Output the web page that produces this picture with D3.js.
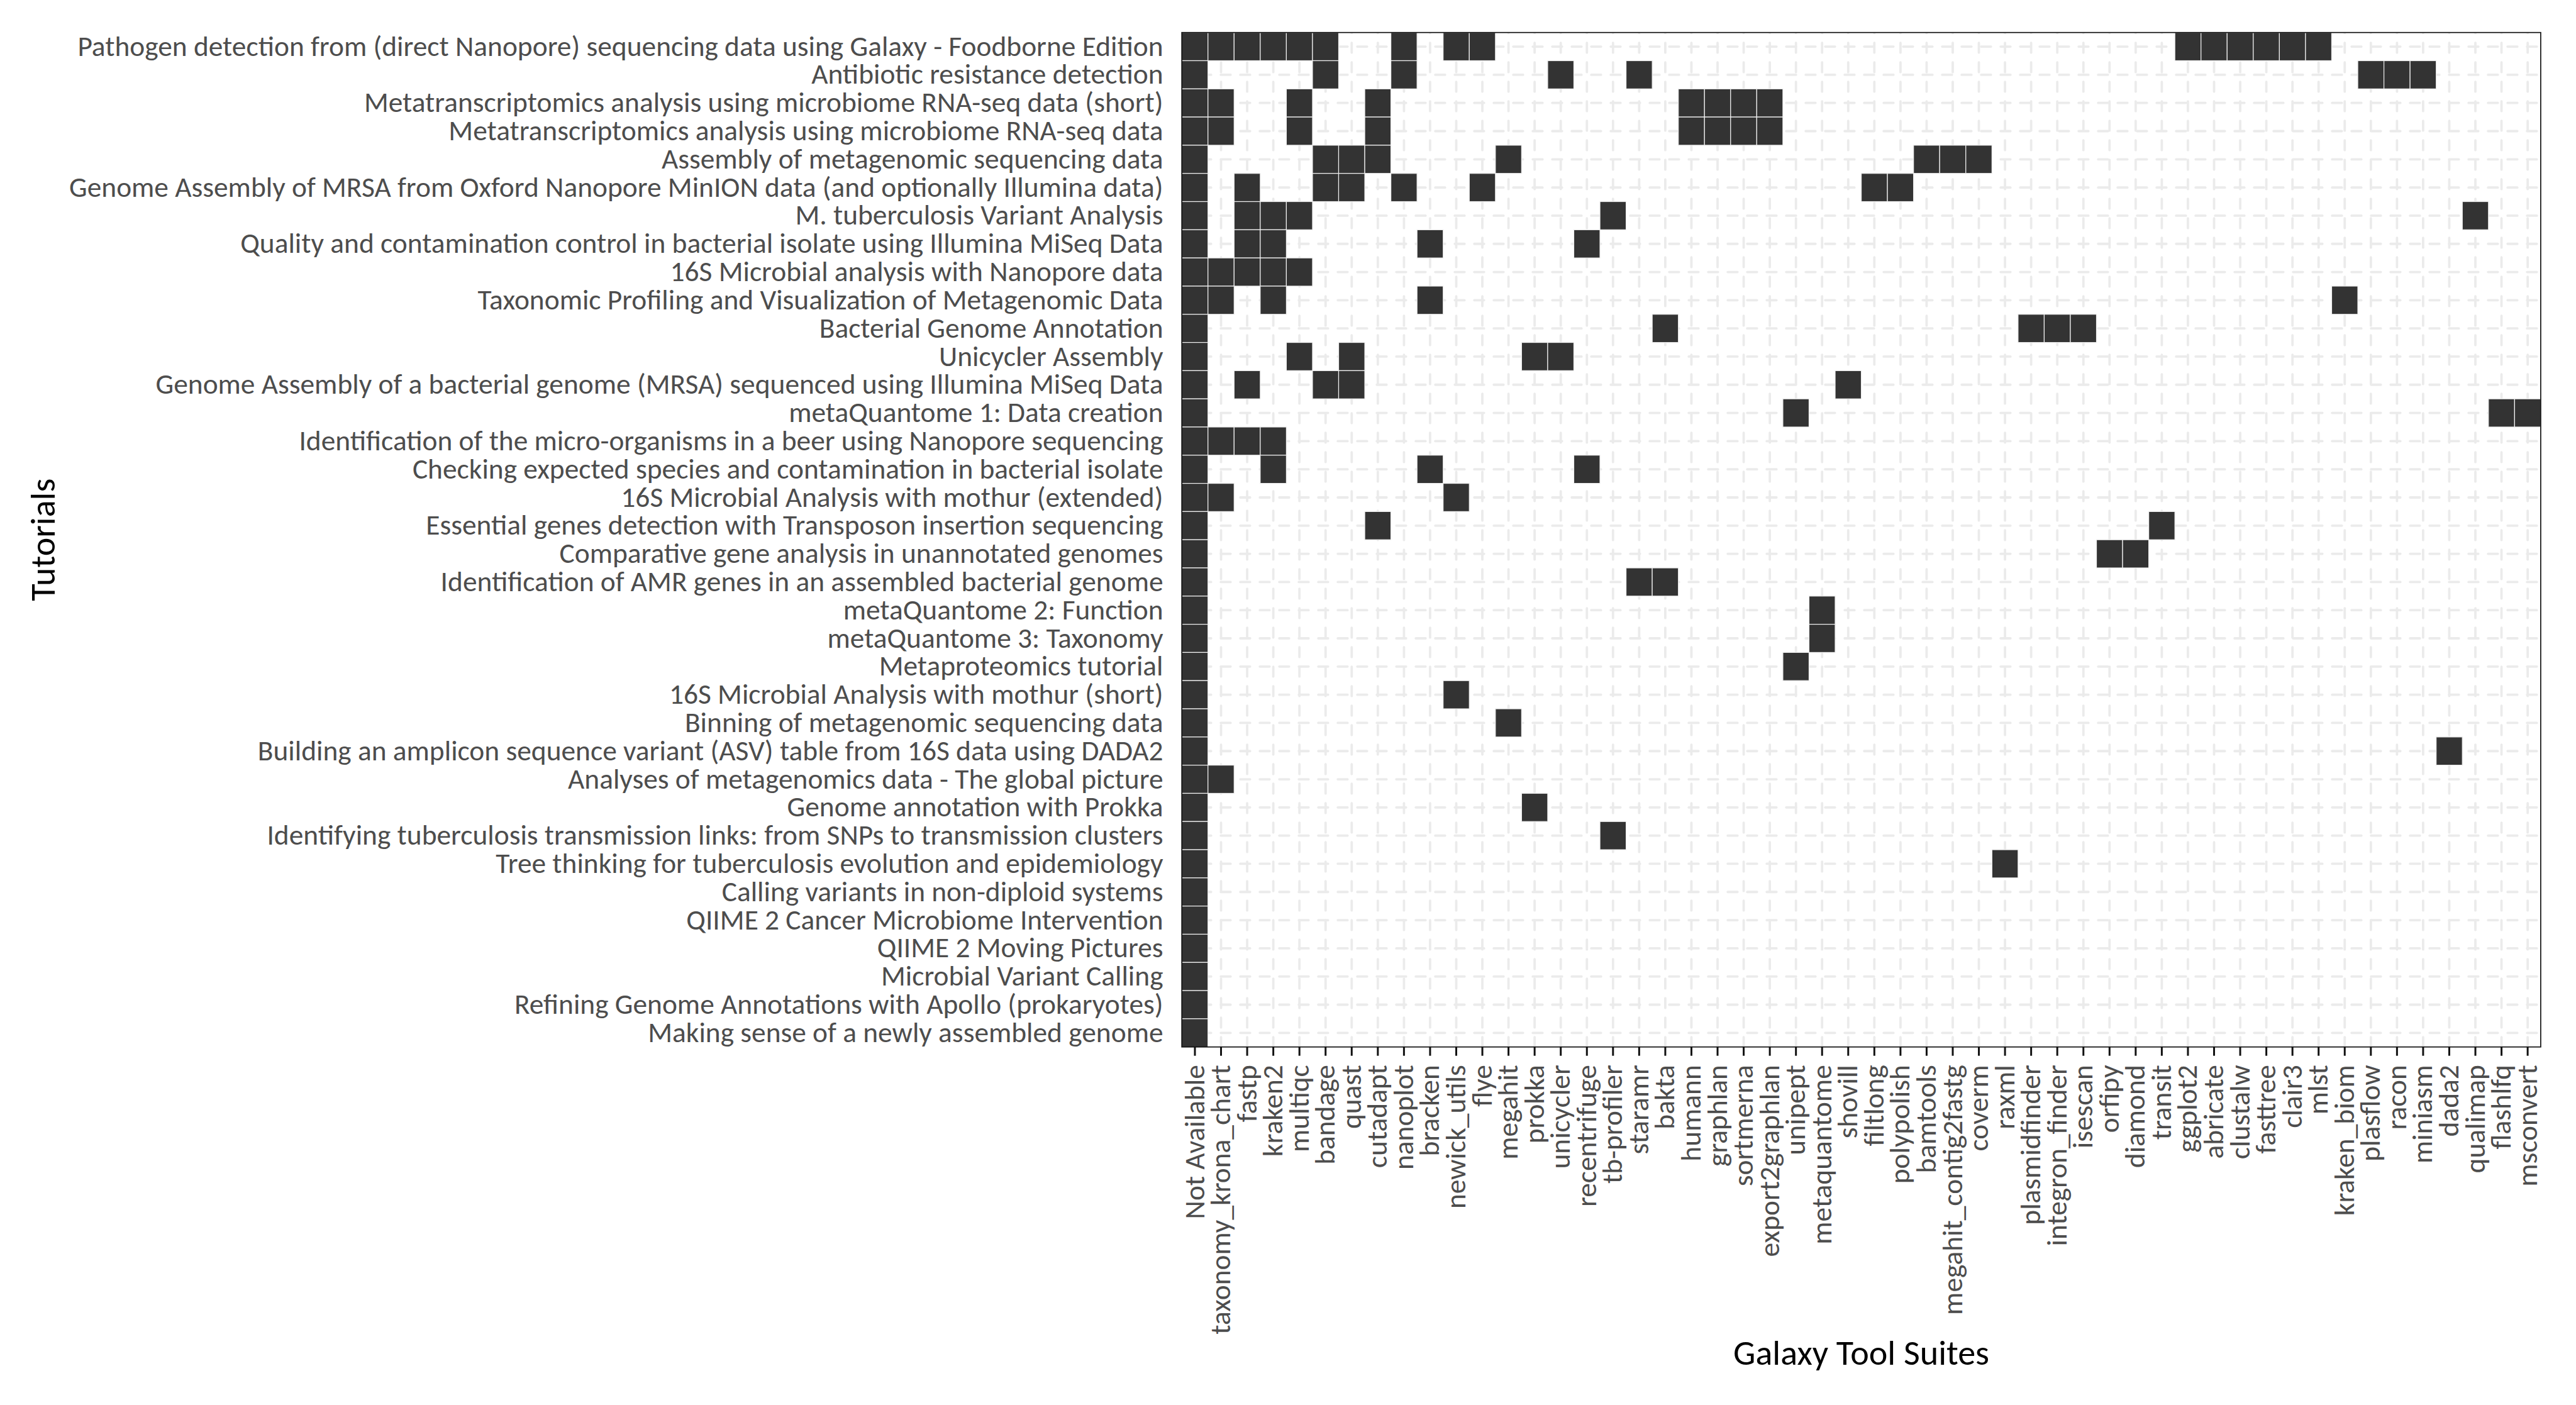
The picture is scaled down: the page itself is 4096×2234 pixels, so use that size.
<!DOCTYPE html>
<html>
<head>
<meta charset="utf-8">
<script src="https://cdn.jsdelivr.net/npm/d3@7"></script>
<style>
  html, body { margin: 0; padding: 0; background: #ffffff; }
  svg { display: block; }
</style>
</head>
<body>
<svg id="chart" width="4096" height="2234"></svg>
<script>
// ---------------- DATA ----------------
const tutorials = [
  "Pathogen detection from (direct Nanopore) sequencing data using Galaxy - Foodborne Edition",
  "Antibiotic resistance detection",
  "Metatranscriptomics analysis using microbiome RNA-seq data (short)",
  "Metatranscriptomics analysis using microbiome RNA-seq data",
  "Assembly of metagenomic sequencing data",
  "Genome Assembly of MRSA from Oxford Nanopore MinION data (and optionally Illumina data)",
  "M. tuberculosis Variant Analysis",
  "Quality and contamination control in bacterial isolate using Illumina MiSeq Data",
  "16S Microbial analysis with Nanopore data",
  "Taxonomic Profiling and Visualization of Metagenomic Data",
  "Bacterial Genome Annotation",
  "Unicycler Assembly",
  "Genome Assembly of a bacterial genome (MRSA) sequenced using Illumina MiSeq Data",
  "metaQuantome 1: Data creation",
  "Identification of the micro-organisms in a beer using Nanopore sequencing",
  "Checking expected species and contamination in bacterial isolate",
  "16S Microbial Analysis with mothur (extended)",
  "Essential genes detection with Transposon insertion sequencing",
  "Comparative gene analysis in unannotated genomes",
  "Identification of AMR genes in an assembled bacterial genome",
  "metaQuantome 2: Function",
  "metaQuantome 3: Taxonomy",
  "Metaproteomics tutorial",
  "16S Microbial Analysis with mothur (short)",
  "Binning of metagenomic sequencing data",
  "Building an amplicon sequence variant (ASV) table from 16S data using DADA2",
  "Analyses of metagenomics data - The global picture",
  "Genome annotation with Prokka",
  "Identifying tuberculosis transmission links: from SNPs to transmission clusters",
  "Tree thinking for tuberculosis evolution and epidemiology",
  "Calling variants in non-diploid systems",
  "QIIME 2 Cancer Microbiome Intervention",
  "QIIME 2 Moving Pictures",
  "Microbial Variant Calling",
  "Refining Genome Annotations with Apollo (prokaryotes)",
  "Making sense of a newly assembled genome"
];

const toolSuites = [
  "Not Available", "taxonomy_krona_chart", "fastp", "kraken2", "multiqc", "bandage",
  "quast", "cutadapt", "nanoplot", "bracken", "newick_utils", "flye", "megahit",
  "prokka", "unicycler", "recentrifuge", "tb-profiler", "staramr", "bakta", "humann",
  "graphlan", "sortmerna", "export2graphlan", "unipept", "metaquantome", "shovill",
  "filtlong", "polypolish", "bamtools", "megahit_contig2fastg", "coverm", "raxml",
  "plasmidfinder", "integron_finder", "isescan", "orfipy", "diamond", "transit",
  "ggplot2", "abricate", "clustalw", "fasttree", "clair3", "mlst", "kraken_biom",
  "plasflow", "racon", "miniasm", "dada2", "qualimap", "flashlfq", "msconvert"
];

// tool suites used by each tutorial (same order as tutorials)
const tutorialTools = [
  ["Not Available", "taxonomy_krona_chart", "fastp", "kraken2", "multiqc", "bandage", "nanoplot", "newick_utils", "flye", "ggplot2", "abricate", "clustalw", "fasttree", "clair3", "mlst"],
  ["Not Available", "bandage", "nanoplot", "unicycler", "staramr", "plasflow", "racon", "miniasm"],
  ["Not Available", "taxonomy_krona_chart", "multiqc", "cutadapt", "humann", "graphlan", "sortmerna", "export2graphlan"],
  ["Not Available", "taxonomy_krona_chart", "multiqc", "cutadapt", "humann", "graphlan", "sortmerna", "export2graphlan"],
  ["Not Available", "bandage", "quast", "cutadapt", "megahit", "bamtools", "megahit_contig2fastg", "coverm"],
  ["Not Available", "fastp", "bandage", "quast", "nanoplot", "flye", "filtlong", "polypolish"],
  ["Not Available", "fastp", "kraken2", "multiqc", "tb-profiler", "qualimap"],
  ["Not Available", "fastp", "kraken2", "bracken", "recentrifuge"],
  ["Not Available", "taxonomy_krona_chart", "fastp", "kraken2", "multiqc"],
  ["Not Available", "taxonomy_krona_chart", "kraken2", "bracken", "kraken_biom"],
  ["Not Available", "bakta", "plasmidfinder", "integron_finder", "isescan"],
  ["Not Available", "multiqc", "quast", "prokka", "unicycler"],
  ["Not Available", "fastp", "bandage", "quast", "shovill"],
  ["Not Available", "unipept", "flashlfq", "msconvert"],
  ["Not Available", "taxonomy_krona_chart", "fastp", "kraken2"],
  ["Not Available", "kraken2", "bracken", "recentrifuge"],
  ["Not Available", "taxonomy_krona_chart", "newick_utils"],
  ["Not Available", "cutadapt", "transit"],
  ["Not Available", "orfipy", "diamond"],
  ["Not Available", "staramr", "bakta"],
  ["Not Available", "metaquantome"],
  ["Not Available", "metaquantome"],
  ["Not Available", "unipept"],
  ["Not Available", "newick_utils"],
  ["Not Available", "megahit"],
  ["Not Available", "dada2"],
  ["Not Available", "taxonomy_krona_chart"],
  ["Not Available", "prokka"],
  ["Not Available", "tb-profiler"],
  ["Not Available", "raxml"],
  ["Not Available"],
  ["Not Available"],
  ["Not Available"],
  ["Not Available"],
  ["Not Available"],
  ["Not Available"]
];

const xTitle = "Galaxy Tool Suites";
const yTitle = "Tutorials";

// ---------------- LAYOUT ----------------
const W = 4096, H = 2234;
const panel = { left: 1879.2, right: 4039.9, top: 51.7, bottom: 1664.7 };
const FONT = "Carlito, Calibri, Lato, sans-serif";

const svg = d3.select("#chart");
svg.append("rect").attr("x", 0).attr("y", 0).attr("width", W).attr("height", H).attr("fill", "#ffffff");

const x = d3.scaleBand().domain(toolSuites).range([panel.left, panel.right]).padding(0);
const y = d3.scaleBand().domain(tutorials).range([panel.top, panel.bottom]).padding(0);

function measure(text, size) {
  const t = svg.append("text").attr("font-family", FONT).attr("font-size", size).text(text);
  const w = t.node().getComputedTextLength();
  t.remove();
  return w;
}
// fit the substitute font to the reference's text widths
const labelSize = 100 * 1727 / measure(tutorials[0], 100);
const titleSize = 100 * 407 / measure(xTitle, 100);

// clip for the panel
svg.append("defs").append("clipPath").attr("id", "panelClip")
  .append("rect")
  .attr("x", panel.left).attr("y", panel.top)
  .attr("width", panel.right - panel.left).attr("height", panel.bottom - panel.top);

// grid lines (dashed, through band centres)
const grid = svg.append("g")
  .attr("clip-path", "url(#panelClip)")
  .attr("stroke", "#ebebeb")
  .attr("stroke-width", 3.8)
  .attr("stroke-dasharray", "15.5 15.5")
  .attr("stroke-linecap", "round")
  .attr("fill", "none");

grid.selectAll("line.v").data(toolSuites).join("line")
  .attr("class", "v")
  .attr("x1", d => x(d) + x.bandwidth() / 2)
  .attr("x2", d => x(d) + x.bandwidth() / 2)
  .attr("y1", panel.bottom)
  .attr("y2", panel.top);

grid.selectAll("line.h").data(tutorials).join("line")
  .attr("class", "h")
  .attr("y1", d => y(d) + y.bandwidth() / 2)
  .attr("y2", d => y(d) + y.bandwidth() / 2)
  .attr("x1", panel.left)
  .attr("x2", panel.right);

// tiles
const cells = tutorialTools.flatMap((tools, i) => tools.map(t => ({ tutorial: tutorials[i], tool: t })));
svg.append("g")
  .selectAll("rect").data(cells).join("rect")
  .attr("x", d => x(d.tool))
  .attr("y", d => y(d.tutorial))
  .attr("width", x.bandwidth())
  .attr("height", y.bandwidth())
  .attr("fill", "#333333")
  .attr("stroke", "#f0f0f0")
  .attr("stroke-width", 1.2);

// panel border
svg.append("rect")
  .attr("x", panel.left).attr("y", panel.top)
  .attr("width", panel.right - panel.left).attr("height", panel.bottom - panel.top)
  .attr("fill", "none").attr("stroke", "#111111").attr("stroke-width", 1.7);

// x axis
const xAxis = svg.append("g")
  .attr("transform", `translate(0,${panel.bottom})`)
  .call(d3.axisBottom(x).tickSize(14).tickSizeOuter(0));
xAxis.select(".domain").remove();
xAxis.selectAll(".tick line").attr("stroke", "#111111").attr("stroke-width", 3);
xAxis.selectAll(".tick text")
  .attr("transform", "rotate(-90)")
  .attr("x", -(1693.2 - panel.bottom))
  .attr("y", 0)
  .attr("dy", "0.32em")
  .attr("text-anchor", "end")
  .attr("fill", "#4d4d4d")
  .attr("font-family", FONT)
  .attr("font-size", labelSize);

// y axis
const yAxis = svg.append("g")
  .attr("transform", `translate(${panel.left},0)`)
  .call(d3.axisLeft(y).tickSize(0).tickPadding(0));
yAxis.select(".domain").remove();
yAxis.selectAll(".tick line").remove();
yAxis.selectAll(".tick text")
  .attr("x", -(panel.left - 1849.5))
  .attr("dy", "0.32em")
  .attr("text-anchor", "end")
  .attr("fill", "#4d4d4d")
  .attr("font-family", FONT)
  .attr("font-size", labelSize);

// axis titles
svg.append("text")
  .attr("x", (panel.left + panel.right) / 2)
  .attr("y", 2170.4)
  .attr("text-anchor", "middle")
  .attr("font-family", FONT)
  .attr("font-size", titleSize)
  .attr("fill", "#000000")
  .text(xTitle);

svg.append("text")
  .attr("transform", `translate(86.8,${(panel.top + panel.bottom) / 2}) rotate(-90)`)
  .attr("text-anchor", "middle")
  .attr("font-family", FONT)
  .attr("font-size", titleSize)
  .attr("fill", "#000000")
  .text(yTitle);
</script>
</body>
</html>
